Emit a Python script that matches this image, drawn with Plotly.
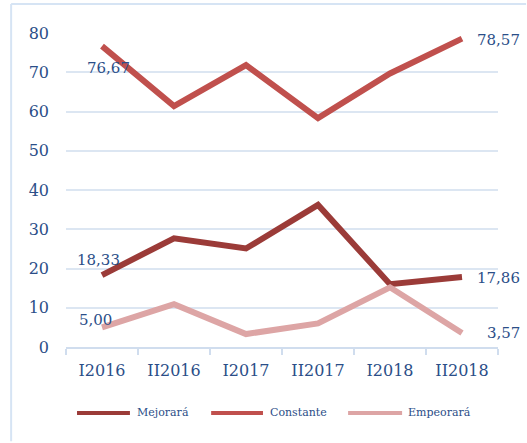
import plotly.graph_objects as go

categories = ["I2016", "II2016", "I2017", "II2017", "I2018", "II2018"]
mejorara = [18.33, 27.7, 25.1, 36.2, 16.0, 17.86]
constante = [76.67, 61.4, 71.8, 58.3, 69.7, 78.57]
empeorara = [5.00, 10.9, 3.3, 6.0, 15.2, 3.57]
series_names = ["Mejorará", "Constante", "Empeorará"]
y_ticks = [0, 10, 20, 30, 40, 50, 60, 70, 80]

colors = ["#9B3B38", "#C0504D", "#DDA5A5"]
text_color = "#2B4E88"
grid_color = "#DCE6F2"
font_family = "DejaVu Serif"

fig = go.Figure()
all_series = [mejorara, constante, empeorara]
for name, vals, col in zip(series_names, all_series, colors):
    fig.add_trace(go.Scatter(x=categories, y=vals, mode="lines", name=name,
                             line=dict(color=col, width=6),
                             showlegend=False, hoverinfo="skip"))

def fmt(v):
    return f"{v:.2f}".replace(".", ",")

first_shift = {"Mejorará": (-4, 15), "Constante": (6, -22), "Empeorará": (-7, 7)}
last_shift = {"Mejorará": (13, -1), "Constante": (13, -1), "Empeorará": (23, 0)}
anns = []
for name, vals in zip(series_names, all_series):
    dx, dy = first_shift[name]
    anns.append(dict(x=categories[0], y=vals[0], xref="x", yref="y", text=fmt(vals[0]),
                     showarrow=False, xanchor="center", yanchor="middle",
                     xshift=dx, yshift=dy,
                     font=dict(family=font_family, size=15, color=text_color)))
    dx, dy = last_shift[name]
    anns.append(dict(x=categories[-1], y=vals[-1], xref="x", yref="y", text=fmt(vals[-1]),
                     showarrow=False, xanchor="left", yanchor="middle",
                     xshift=dx, yshift=dy,
                     font=dict(family=font_family, size=15, color=text_color)))

legend_pos = [(0.0255, 0.148, 0.160), (0.336, 0.456, 0.468), (0.653, 0.778, 0.787)]
ly = -0.210
shapes = []
for (x0, x1, xt), name, col in zip(legend_pos, series_names, colors):
    shapes.append(dict(type="line", xref="paper", yref="paper", x0=x0, x1=x1, y0=ly, y1=ly,
                       line=dict(color=col, width=4)))
    anns.append(dict(x=xt, y=ly, xref="paper", yref="paper", text=name, showarrow=False,
                     xanchor="left", yanchor="middle",
                     font=dict(family=font_family, size=11, color=text_color)))

frame_col = "#D6E4F4"
shapes.append(dict(type="line", xref="paper", yref="paper", x0=-0.127, x1=-0.127, y0=-0.30, y1=1.092,
                   line=dict(color=frame_col, width=2), layer="below"))
shapes.append(dict(type="line", xref="paper", yref="paper", x0=-0.127, x1=1.065, y0=1.092, y1=1.092,
                   line=dict(color=frame_col, width=2), layer="below"))

fig.update_layout(
    width=527, height=443, autosize=False,
    margin=dict(l=66, r=29, t=33, b=96, autoexpand=False),
    paper_bgcolor="white", plot_bgcolor="white",
    font=dict(family=font_family, color=text_color),
    annotations=anns, shapes=shapes,
    xaxis=dict(range=[-0.5, len(categories) - 0.5], showgrid=False, showline=True,
               linecolor="#D0DDEE", linewidth=2,
               ticks="outside", tickson="boundaries", ticklen=6, tickcolor="#D0DDEE", tickwidth=2,
               tickfont=dict(family=font_family, size=16, color=text_color),
               ticklabelstandoff=8, automargin=False, fixedrange=True),
    yaxis=dict(range=[0, 80], tickvals=y_ticks, showgrid=True, gridcolor=grid_color, gridwidth=2,
               zeroline=False, showline=False,
               tickfont=dict(family=font_family, size=16, color=text_color),
               ticklabelstandoff=16, automargin=False, fixedrange=True),
)

fig.write_html("out.html", config={"displayModeBar": False},
               post_script="document.body.style.margin='0';document.body.style.overflow='hidden';")
